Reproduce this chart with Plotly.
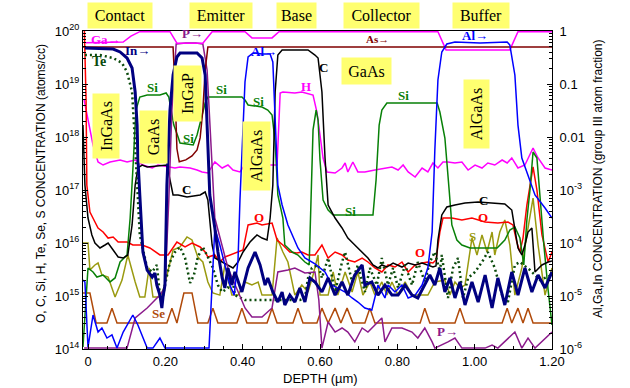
import plotly.graph_objects as go

# ---------------- data (depth in µm) ----------------
# group-III / group-V atom fractions (right axis)
ga_depth = [-0.006, 0.091, 0.111, 0.134, 0.212, 0.230, 0.297, 0.321, 0.406, 0.424, 0.476, 0.494, 0.905, 0.926, 1.091, 1.112, 1.200]
ga_frac = [0.60, 0.62, 0.80, 0.97, 0.97, 0.59, 0.59, 0.97, 0.97, 0.74, 0.74, 0.97, 0.97, 0.44, 0.44, 0.97, 0.97]

as_depth = [-0.013, 0.220, 0.224, 0.230, 0.236, 0.253, 0.269, 0.282, 0.290, 0.297, 0.303, 0.310, 1.200]
as_frac = [0.50, 0.50, 0.12, 0.006, 0.0034, 0.0037, 0.0044, 0.0057, 0.0096, 0.032, 0.18, 0.50, 0.50]

p_depth = [-0.010, 0.101, 0.122, 0.153, 0.186, 0.199, 0.209, 0.217, 0.228, 0.253, 0.279, 0.297, 0.308, 0.318, 0.328, 0.362, 0.406, 0.424, 0.450, 0.476, 0.491, 0.517, 0.535, 0.561, 0.587, 0.597, 0.605, 0.621, 0.639, 0.657, 0.672, 0.690, 0.709, 0.724, 0.742, 0.760, 0.768, 0.786, 0.812, 0.838, 0.853, 0.871, 0.890, 0.897, 0.931, 0.949, 0.967, 1.027, 1.045, 1.060, 1.104, 1.122, 1.138, 1.156, 1.200]
p_frac = [1.04e-6, 1.04e-6, 3.85e-6, 5.94e-6, 1.04e-5, 1.42e-5, 6.48e-4, 0.0323, 0.568, 0.594, 0.594, 0.568, 0.184, 0.00568, 2.96e-4, 3.38e-5, 5.94e-6, 4.02e-6, 4.02e-6, 5.94e-6, 2.84e-5, 3.09e-5, 3.38e-5, 2.72e-5, 2.84e-5, 8.41e-6, 1.04e-6, 3.23e-6, 2.09e-6, 2.49e-6, 2.09e-6, 1.36e-6, 2.49e-6, 2.09e-6, 2.84e-6, 3.85e-6, 1.36e-6, 2.49e-6, 2.49e-6, 2.09e-6, 1.61e-6, 2.49e-6, 1.36e-6, 1.04e-6, 1.36e-6, 1.61e-6, 1.04e-6, 1.04e-6, 1.19e-6, 1.04e-6, 2.09e-6, 1.04e-6, 1.61e-6, 1.04e-6, 2.09e-6]

al_depth = [-0.013, -0.008, 0.000, 0.013, 0.026, 0.036, 0.049, 0.062, 0.075, 0.091, 0.116, 0.129, 0.153, 0.168, 0.186, 0.199, 0.313, 0.321, 0.328, 0.341, 0.354, 0.367, 0.378, 0.388, 0.393, 0.398, 0.406, 0.414, 0.427, 0.450, 0.471, 0.478, 0.486, 0.491, 0.502, 0.517, 0.543, 0.561, 0.587, 0.613, 0.631, 0.646, 0.665, 0.683, 0.698, 0.716, 0.734, 0.750, 0.760, 0.768, 0.776, 0.794, 0.812, 0.828, 0.846, 0.864, 0.879, 0.890, 0.897, 0.905, 0.915, 0.928, 0.949, 1.014, 1.084, 1.091, 1.104, 1.112, 1.122, 1.135, 1.156, 1.182, 1.200]
al_frac = [2.0e-5, 1.84e-5, 1.09e-6, 4.38e-6, 2.09e-6, 2.49e-6, 1.61e-6, 1.84e-6, 1.04e-6, 2.09e-6, 4.38e-6, 2.84e-6, 1.04e-6, 1.04e-6, 1.61e-6, 1.04e-6, 1.04e-6, 1.30e-5, 1.92e-4, 9.17e-5, 3.85e-5, 1.61e-5, 1.04e-5, 4.78e-5, 6.48e-4, 5.68e-3, 0.109, 0.323, 0.385, 0.368, 0.368, 0.260, 0.0136, 1.24e-3, 5.21e-4, 2.19e-4, 8.05e-5, 5.21e-5, 4.02e-5, 2.84e-5, 1.61e-5, 1.42e-5, 1.19e-5, 9.17e-6, 7.70e-6, 5.94e-6, 5.44e-6, 1.61e-5, 1.19e-5, 9.17e-6, 1.61e-5, 1.19e-5, 1.61e-5, 9.17e-6, 1.04e-5, 1.61e-5, 3.38e-5, 1.61e-4, 5.68e-3, 0.119, 0.402, 0.568, 0.620, 0.594, 0.620, 0.544, 0.148, 0.0168, 4.02e-3, 2.19e-3, 8.05e-4, 4.57e-4, 2.96e-4]

in_depth = [-0.008, 0.065, 0.083, 0.101, 0.114, 0.122, 0.127, 0.129, 0.134, 0.142, 0.153, 0.166, 0.173, 0.178, 0.186, 0.191, 0.194, 0.199, 0.204, 0.212, 0.220, 0.230, 0.238, 0.282, 0.295, 0.303, 0.308, 0.315, 0.328, 0.336, 0.347, 0.354, 0.362, 0.372, 0.380, 0.398, 0.414, 0.432, 0.445, 0.458, 0.465, 0.478, 0.491, 0.502, 0.509, 0.522, 0.535, 0.548, 0.561, 0.574, 0.587, 0.605, 0.621, 0.639, 0.657, 0.672, 0.690, 0.709, 0.716, 0.734, 0.750, 0.768, 0.786, 0.802, 0.820, 0.838, 0.853, 0.871, 0.884, 0.897, 0.910, 0.923, 0.936, 0.949, 0.962, 0.975, 0.993, 1.009, 1.027, 1.045, 1.060, 1.078, 1.096, 1.112, 1.130, 1.148, 1.164, 1.182, 1.200]
in_frac = [0.478, 0.457, 0.402, 0.309, 0.200, 0.0707, 0.0168, 0.00402, 8.05e-4, 6.76e-5, 3.09e-5, 2.28e-5, 2.72e-5, 1.61e-5, 1.04e-5, 5.94e-6, 9.57e-6, 1.61e-5, 1.24e-3, 0.0323, 0.148, 0.323, 0.385, 0.385, 0.309, 0.148, 0.0168, 8.05e-4, 1.92e-4, 6.76e-5, 2.19e-5, 1.42e-5, 3.38e-5, 1.61e-5, 2.84e-5, 1.19e-5, 3.38e-5, 6.76e-5, 3.85e-5, 1.61e-5, 2.19e-5, 1.19e-5, 7.70e-6, 1.19e-5, 6.76e-6, 1.04e-5, 7.70e-6, 1.42e-5, 7.70e-6, 2.19e-5, 1.84e-5, 1.19e-5, 2.19e-5, 1.04e-5, 1.84e-5, 1.04e-5, 2.49e-5, 3.85e-5, 1.61e-5, 1.84e-5, 1.04e-5, 1.61e-5, 1.04e-5, 1.04e-5, 1.61e-5, 1.04e-5, 9.17e-6, 1.61e-5, 2.49e-5, 1.61e-5, 3.38e-5, 1.19e-5, 2.19e-5, 9.17e-6, 1.84e-5, 6.76e-6, 1.84e-5, 7.70e-6, 2.49e-5, 5.94e-6, 2.19e-5, 6.76e-6, 2.84e-5, 1.04e-5, 3.38e-5, 1.19e-5, 2.49e-5, 1.42e-5, 2.84e-5]

# impurity concentrations in atoms/cc (left axis)
te_depth = [-0.008, 0.031, 0.065, 0.088, 0.101, 0.114, 0.119, 0.124, 0.129, 0.134, 0.153, 0.166, 0.178, 0.186, 0.191, 0.199, 0.212, 0.225, 0.238, 0.251, 0.264, 0.274, 0.284, 0.297, 0.310, 0.323, 0.336, 0.347, 0.362, 0.372, 0.380, 0.406, 0.548, 0.561, 0.569, 0.579, 0.595, 0.605, 0.621, 0.639, 0.657, 0.665, 0.683, 0.698, 0.716, 0.729, 0.747, 0.760, 0.776, 0.789, 0.802, 0.820, 0.838, 0.853, 0.871, 0.884, 0.897, 0.910, 0.915, 0.931, 0.944, 0.957, 0.970, 0.983, 1.001, 1.019, 1.034, 1.052, 1.071, 1.086, 1.104, 1.117, 1.143, 1.169, 1.200]
te_conc = [3.52e19, 3.52e19, 3.09e19, 2.49e19, 1.68e19, 7.07e18, 1.68e18, 4.02e17, 1.00e17, 1.42e16, 3.38e15, 2.84e15, 3.85e15, 1.04e15, 7.70e14, 1.61e15, 4.38e15, 6.76e15, 8.41e15, 5.21e15, 1.76e15, 2.49e15, 5.44e15, 8.41e15, 5.44e15, 3.38e15, 1.61e15, 1.19e15, 1.42e15, 2.49e15, 1.04e15, 8.41e14, 8.41e14, 9.17e14, 2.19e15, 3.38e15, 3.85e15, 2.19e15, 5.21e15, 1.19e15, 4.38e15, 6.76e15, 1.84e15, 3.85e15, 1.19e15, 3.38e15, 1.61e15, 5.21e15, 1.61e15, 3.38e15, 1.42e15, 3.85e15, 1.61e15, 4.38e15, 1.84e15, 4.38e15, 6.76e15, 2.84e15, 5.94e15, 9.17e14, 3.38e15, 5.21e15, 9.17e14, 2.19e15, 2.84e15, 4.38e15, 6.76e15, 3.38e15, 1.04e15, 7.70e14, 3.85e15, 4.38e15, 3.09e15, 2.00e15, 2.49e15]

si_depth = [-0.013, -0.005, 0.000, 0.013, 0.023, 0.039, 0.057, 0.070, 0.083, 0.101, 0.109, 0.116, 0.124, 0.134, 0.153, 0.186, 0.202, 0.209, 0.215, 0.222, 0.233, 0.238, 0.272, 0.282, 0.292, 0.303, 0.310, 0.398, 0.406, 0.414, 0.450, 0.465, 0.476, 0.484, 0.491, 0.504, 0.509, 0.528, 0.543, 0.561, 0.572, 0.577, 0.582, 0.590, 0.595, 0.600, 0.608, 0.621, 0.634, 0.737, 0.745, 0.753, 0.760, 0.773, 0.903, 0.910, 0.923, 0.934, 0.941, 0.954, 0.967, 0.988, 1.058, 1.078, 1.091, 1.104, 1.117, 1.127, 1.135, 1.143, 1.151, 1.161, 1.169, 1.179, 1.190, 1.200]
si_conc = [1.09e14, 8.41e14, 3.38e15, 2.84e15, 2.28e15, 2.49e15, 1.84e15, 2.19e15, 4.38e15, 5.94e15, 2.96e16, 2.38e17, 3.23e18, 5.68e18, 6.20e18, 6.20e18, 6.76e18, 5.68e18, 3.23e18, 1.68e18, 1.00e18, 7.70e17, 7.06e17, 1.09e18, 2.09e18, 4.38e18, 5.68e18, 5.68e18, 4.99e18, 4.02e18, 3.68e18, 3.23e18, 2.60e18, 8.05e17, 8.05e16, 2.96e16, 9.17e15, 6.76e15, 5.94e15, 4.38e15, 3.85e15, 6.48e16, 1.36e18, 3.23e18, 2.09e18, 3.68e17, 6.48e16, 4.19e16, 3.38e16, 3.38e16, 1.54e17, 1.68e18, 3.23e18, 4.38e18, 4.38e18, 2.96e18, 9.57e17, 1.00e17, 2.19e16, 1.14e16, 9.17e15, 8.05e15, 8.05e15, 1.14e16, 1.76e16, 2.00e16, 1.24e16, 3.85e15, 2.72e16, 1.00e17, 5.21e17, 4.02e17, 6.48e16, 9.17e15, 1.30e15, 2.84e14]

c_depth = [-0.013, -0.008, 0.000, 0.010, 0.018, 0.031, 0.044, 0.052, 0.065, 0.078, 0.091, 0.103, 0.114, 0.122, 0.129, 0.140, 0.153, 0.204, 0.207, 0.220, 0.233, 0.256, 0.290, 0.303, 0.310, 0.315, 0.321, 0.328, 0.347, 0.362, 0.375, 0.388, 0.401, 0.419, 0.437, 0.450, 0.463, 0.471, 0.478, 0.484, 0.491, 0.502, 0.569, 0.587, 0.595, 0.605, 0.613, 0.621, 0.639, 0.657, 0.672, 0.690, 0.709, 0.724, 0.737, 0.750, 0.760, 0.773, 0.789, 0.812, 0.828, 0.846, 0.864, 0.879, 0.892, 0.900, 0.905, 0.915, 0.928, 0.949, 0.975, 1.009, 1.045, 1.078, 1.096, 1.104, 1.112, 1.122, 1.130, 1.138, 1.148, 1.156, 1.174, 1.190, 1.200]
c_conc = [1.68e18, 1.24e17, 2.96e16, 1.42e16, 1.00e16, 8.05e15, 9.17e15, 1.00e16, 7.38e15, 5.44e15, 5.21e15, 5.94e15, 2.19e16, 1.24e17, 2.60e17, 2.96e17, 2.72e17, 2.96e17, 2.38e17, 8.05e16, 8.05e16, 7.38e16, 8.05e16, 9.17e16, 6.48e16, 2.96e16, 9.17e15, 5.21e15, 4.38e15, 3.85e15, 3.38e15, 4.38e15, 6.76e15, 1.04e16, 1.42e16, 1.24e16, 1.14e16, 2.96e16, 1.24e17, 7.07e18, 3.52e19, 4.38e19, 4.38e19, 3.52e19, 3.09e19, 7.07e18, 4.02e17, 5.21e16, 2.96e16, 1.92e16, 1.24e16, 9.17e15, 6.76e15, 5.21e15, 3.85e15, 3.38e15, 3.85e15, 3.52e15, 4.19e15, 3.52e15, 4.19e15, 3.85e15, 4.19e15, 3.85e15, 3.52e15, 3.68e15, 1.14e16, 3.38e16, 4.78e16, 5.21e16, 5.68e16, 5.94e16, 5.68e16, 5.44e16, 4.19e16, 1.92e16, 8.05e15, 5.94e15, 9.17e15, 1.61e16, 1.92e16, 2.84e15, 3.85e15, 4.38e15, 4.57e15]

o_depth = [-0.010, -0.005, -0.003, 0.005, 0.018, 0.026, 0.039, 0.052, 0.065, 0.078, 0.101, 0.116, 0.140, 0.160, 0.186, 0.207, 0.230, 0.251, 0.269, 0.290, 0.303, 0.310, 0.328, 0.341, 0.354, 0.367, 0.385, 0.401, 0.414, 0.437, 0.450, 0.476, 0.489, 0.504, 0.522, 0.540, 0.553, 0.569, 0.587, 0.605, 0.621, 0.639, 0.657, 0.672, 0.690, 0.709, 0.724, 0.742, 0.760, 0.776, 0.794, 0.812, 0.828, 0.846, 0.864, 0.879, 0.892, 0.900, 0.910, 0.918, 0.941, 0.967, 0.993, 1.027, 1.060, 1.086, 1.099, 1.109, 1.117, 1.125, 1.135, 1.143, 1.151, 1.161, 1.174, 1.190, 1.200]
o_conc = [1.6e20, 4.99e18, 1.24e17, 3.85e16, 2.49e16, 1.92e16, 1.61e16, 1.24e16, 1.30e16, 1.04e16, 1.04e16, 9.17e15, 9.17e15, 8.05e15, 5.94e15, 5.94e15, 1.04e16, 8.41e15, 1.00e16, 8.41e15, 6.76e15, 5.44e15, 5.94e15, 4.38e15, 5.44e15, 5.94e15, 6.76e15, 7.38e15, 2.19e16, 2.38e16, 2.19e16, 2.38e16, 1.14e16, 9.17e15, 6.76e15, 6.48e15, 6.76e15, 5.94e15, 5.94e15, 9.17e15, 5.21e15, 6.76e15, 5.94e15, 4.78e15, 4.38e15, 5.21e15, 4.38e15, 3.38e15, 2.84e15, 3.85e15, 3.52e15, 4.38e15, 2.84e15, 3.85e15, 4.19e15, 4.38e15, 4.19e15, 4.78e15, 1.61e16, 2.96e16, 2.96e16, 2.72e16, 2.96e16, 2.49e16, 2.38e16, 2.49e16, 2.19e16, 1.04e16, 6.76e15, 1.24e16, 5.21e16, 1.24e17, 2.72e17, 1.00e17, 1.42e16, 4.38e15, 6.76e15]

s_depth = [-0.013, 0.000, 0.005, 0.018, 0.026, 0.036, 0.052, 0.070, 0.088, 0.103, 0.122, 0.134, 0.147, 0.158, 0.168, 0.186, 0.197, 0.220, 0.238, 0.256, 0.269, 0.284, 0.297, 0.310, 0.323, 0.341, 0.354, 0.372, 0.388, 0.406, 0.424, 0.440, 0.450, 0.476, 0.489, 0.504, 0.517, 0.535, 0.553, 0.569, 0.582, 0.595, 0.600, 0.621, 0.634, 0.646, 0.665, 0.683, 0.698, 0.711, 0.729, 0.742, 0.760, 0.773, 0.786, 0.802, 0.820, 0.838, 0.879, 0.897, 0.923, 0.936, 0.949, 0.962, 0.975, 0.983, 0.993, 1.006, 1.019, 1.032, 1.045, 1.052, 1.065, 1.078, 1.091, 1.104, 1.122, 1.135, 1.151, 1.164, 1.182, 1.200]
s_conc = [1.00e16, 1.00e16, 3.09e15, 3.85e15, 4.19e15, 2.49e15, 2.28e15, 9.57e14, 2.00e15, 5.94e15, 1.84e15, 9.57e14, 9.57e14, 3.38e15, 9.57e14, 9.57e14, 1.48e15, 7.38e15, 8.41e15, 1.30e16, 1.14e16, 5.44e15, 4.38e15, 1.84e15, 1.14e15, 1.04e15, 3.85e15, 1.04e15, 1.04e15, 1.84e15, 1.61e15, 1.84e15, 1.04e15, 1.04e15, 1.24e16, 6.76e15, 4.38e15, 1.04e15, 1.61e15, 1.19e15, 2.49e15, 5.94e15, 1.04e15, 1.04e15, 2.84e15, 1.04e15, 2.84e15, 1.19e15, 2.84e15, 1.04e15, 1.84e15, 1.04e15, 1.84e15, 1.04e15, 1.84e15, 1.04e15, 1.84e15, 1.04e15, 1.04e15, 1.84e15, 2.00e15, 1.04e15, 1.84e15, 1.42e15, 1.61e15, 4.38e15, 1.24e16, 5.94e15, 1.42e16, 6.76e15, 1.61e16, 5.94e15, 1.61e16, 2.72e16, 9.17e15, 1.04e15, 3.38e15, 1.42e16, 7.06e16, 9.17e15, 1.04e15, 3.38e15]

se_depth = [-0.013, 0.005, 0.021, 0.049, 0.062, 0.075, 0.204, 0.217, 0.230, 0.248, 0.269, 0.284, 0.310, 0.323, 0.336, 0.385, 0.398, 0.411, 0.463, 0.476, 0.489, 0.530, 0.543, 0.556, 0.592, 0.605, 0.621, 0.639, 0.654, 0.670, 0.685, 0.716, 0.729, 0.742, 0.859, 0.871, 0.884, 0.949, 0.962, 0.975, 1.071, 1.084, 1.096, 1.112, 1.125, 1.138, 1.151, 1.200]
se_conc = [1.14e15, 1.14e15, 3.1e14, 3.1e14, 5.9e14, 3.1e14, 3.1e14, 5.9e14, 3.1e14, 1.14e15, 1.14e15, 3.1e14, 3.1e14, 5.9e14, 3.1e14, 3.1e14, 5.9e14, 3.1e14, 3.1e14, 5.9e14, 3.1e14, 3.1e14, 5.9e14, 3.1e14, 3.1e14, 5.9e14, 3.1e14, 5.9e14, 3.1e14, 5.9e14, 3.1e14, 3.1e14, 5.9e14, 3.1e14, 3.1e14, 5.9e14, 3.1e14, 3.1e14, 5.9e14, 3.1e14, 3.1e14, 5.9e14, 3.1e14, 5.9e14, 3.1e14, 5.9e14, 3.1e14, 3.1e14]

h_depth = [-0.010, 0.013, 0.026, 0.039, 0.057, 0.083, 0.101, 0.122, 0.142, 0.166, 0.181, 0.207, 0.225, 0.238, 0.264, 0.282, 0.295, 0.310, 0.328, 0.347, 0.362, 0.375, 0.393, 0.411, 0.427, 0.450, 0.471, 0.489, 0.497, 0.504, 0.535, 0.553, 0.582, 0.592, 0.608, 0.618, 0.639, 0.657, 0.665, 0.672, 0.685, 0.698, 0.716, 0.742, 0.768, 0.786, 0.802, 0.815, 0.828, 0.846, 0.864, 0.879, 0.892, 0.905, 0.918, 0.931, 0.949, 0.967, 0.983, 1.001, 1.019, 1.034, 1.052, 1.071, 1.084, 1.096, 1.112, 1.130, 1.151, 1.164, 1.182, 1.200]
h_conc = [4.99e18, 7.06e17, 3.38e17, 2.96e17, 3.38e17, 3.68e17, 3.38e17, 3.68e17, 2.96e17, 2.60e17, 2.96e17, 2.72e17, 2.60e17, 2.72e17, 2.60e17, 2.38e17, 2.19e17, 2.09e17, 3.38e17, 2.60e17, 2.96e17, 2.38e17, 2.19e17, 3.38e17, 2.60e17, 2.72e17, 2.96e17, 2.96e17, 6.76e18, 7.07e18, 6.76e18, 7.07e18, 6.20e18, 2.96e18, 4.02e17, 2.19e17, 2.09e17, 2.60e17, 3.23e17, 2.19e17, 3.38e17, 2.19e17, 2.19e17, 2.38e17, 2.60e17, 2.72e17, 2.38e17, 2.96e17, 2.19e17, 1.76e17, 2.60e17, 2.19e17, 3.23e17, 2.60e17, 3.38e17, 3.38e17, 3.23e17, 3.38e17, 2.38e17, 2.96e17, 2.60e17, 3.23e17, 2.96e17, 3.68e17, 3.23e17, 4.02e17, 2.60e17, 2.96e17, 6.20e17, 4.02e17, 2.60e17, 2.38e17]

# tick labels
x_tick_vals = [0, 0.2, 0.4, 0.6, 0.8, 1.0, 1.2]
x_tick_text = ["0", "0.20", "0.40", "0.60", "0.80", "1.00", "1.20"]
left_tick_vals = [1e14, 1e15, 1e16, 1e17, 1e18, 1e19, 1e20]
left_tick_text = ["10<sup>14</sup>", "10<sup>15</sup>", "10<sup>16</sup>", "10<sup>17</sup>",
                  "10<sup>18</sup>", "10<sup>19</sup>", "10<sup>20</sup>"]
right_tick_vals = [1e-6, 1e-5, 1e-4, 1e-3, 1e-2, 1e-1, 1]
right_tick_text = ["10<sup>-6</sup>", "10<sup>-5</sup>", "10<sup>-4</sup>", "10<sup>-3</sup>",
                   "0.01", "0.1", "1"]

# ---------------- colours ----------------
MAG = "#ff00ff"; MAROON = "#800000"; PURPLE = "#8b1a8b"; BLUE = "#0000ff"; NAVY = "#000080"
TEGREEN = "#0b4a0b"; GREEN = "#078007"; BLACK = "#000000"; RED = "#ff0000"
OLIVE = "#9a9a10"; SIENNA = "#b04a0a"; YELLOW = "#ffff70"

fig = go.Figure()

def add(x, y, color, width=1.5, axis="y", dash=None):
    fig.add_trace(go.Scatter(x=x, y=y, mode="lines", yaxis=axis,
                             line=dict(color=color, width=width, dash=dash),
                             hoverinfo="skip", showlegend=False))

# left-axis (atoms/cc)
add(se_depth, se_conc, SIENNA)
add(h_depth, h_conc, MAG)
add(s_depth, s_conc, OLIVE)
add(o_depth, o_conc, RED)
add(si_depth, si_conc, GREEN)
add(c_depth, c_conc, BLACK)
add(te_depth, te_conc, TEGREEN, width=2.5, dash="2px,3px")
# right-axis (atom fraction)
add(p_depth, p_frac, PURPLE, axis="y2")
add(ga_depth, ga_frac, MAG, axis="y2")
add(as_depth, as_frac, MAROON, axis="y2")
add(al_depth, al_frac, BLUE, axis="y2")
add(in_depth, in_frac, NAVY, width=3, axis="y2")

# ---------------- layout ----------------
L, R, T, B, W, H = 83, 78, 31, 39, 630, 388
PW, PH = W - L - R, H - T - B

def pxx(v):
    return (v - L) / PW

def pxy(v):
    return (H - B - v) / PH

annotations = []
SERIF = "Liberation Serif, Times New Roman, serif"

# layer names on top
for txt, cx, cy, bw, bh in [("Contact", 120, 16, 64, 25), ("Emitter", 221, 16, 62, 25),
                             ("Base", 296, 16, 39, 25), ("Collector", 381, 16, 75, 25),
                             ("Buffer", 481, 16, 56, 25)]:
    annotations.append(dict(text=txt, x=pxx(cx), y=pxy(cy), xref="paper", yref="paper",
                            showarrow=False, xanchor="center", yanchor="middle",
                            font=dict(family=SERIF, size=16, color="black"),
                            bgcolor=YELLOW, borderpad=0, width=bw, height=bh))

# vertical layer labels inside the plot
for txt, cx, cy, sw, sh in [("InGaAs", 106, 126, 26, 64), ("GaAs", 153, 137, 27, 52),
                             ("InGaP", 188, 94, 27, 55), ("AlGaAs", 256, 156, 27, 68),
                             ("AlGaAs", 476, 114, 25, 68)]:
    annotations.append(dict(text=txt, x=pxx(cx), y=pxy(cy), xref="paper", yref="paper",
                            showarrow=False, xanchor="center", yanchor="middle", textangle=-90,
                            font=dict(family=SERIF, size=16, color="black"),
                            bgcolor=YELLOW, borderpad=0, width=sh, height=sw))
annotations.append(dict(text="GaAs", x=pxx(366), y=pxy(71), xref="paper", yref="paper",
                        showarrow=False, xanchor="center", yanchor="middle",
                        font=dict(family=SERIF, size=16, color="black"),
                        bgcolor=YELLOW, borderpad=0, width=49, height=26))

# element labels
for txt, cx, cy, col, sz in [("Ga→", 106, 39, MAG, 13), ("Te", 99, 62, TEGREEN, 14),
                             ("In→", 137, 50, NAVY, 13), ("Si", 152, 88, GREEN, 13),
                             ("Si", 188, 138, GREEN, 13), ("P→", 192, 33, PURPLE, 13),
                             ("Si", 221, 90, GREEN, 13), ("Al→", 264, 51, BLUE, 13),
                             ("Si", 258, 102, GREEN, 13), ("C", 323, 67, BLACK, 13),
                             ("H", 306, 87, MAG, 13), ("As→", 377, 39, MAROON, 11),
                             ("Si", 403, 96, GREEN, 13), ("Al→", 475, 35, BLUE, 13),
                             ("C", 186, 189, BLACK, 13), ("O", 259, 217, RED, 13),
                             ("Si", 350, 211, GREEN, 13), ("O", 420, 252, RED, 13),
                             ("Se", 158, 313, SIENNA, 13), ("P→", 447, 331, PURPLE, 13),
                             ("C", 483, 200, BLACK, 13), ("O", 483, 217, RED, 13),
                             ("S", 472, 236, OLIVE, 13)]:
    annotations.append(dict(text="<b>" + txt + "</b>", x=pxx(cx), y=pxy(cy), xref="paper",
                            yref="paper", showarrow=False, xanchor="center", yanchor="middle",
                            font=dict(family=SERIF, size=sz, color=col)))

# axis titles
SANS = "Liberation Sans, Arial, sans-serif"
annotations.append(dict(text="O, C, Si, H, Te, Se, S CONCENTRATION (atoms/cc)", x=pxx(41),
                        y=pxy(184), xref="paper", yref="paper", showarrow=False, textangle=-90,
                        xanchor="center", yanchor="middle", font=dict(family=SANS, size=12)))
annotations.append(dict(text="Al,Ga,In CONCENTRATION (group III atom fraction)", x=pxx(598),
                        y=pxy(179), xref="paper", yref="paper", showarrow=False, textangle=-90,
                        xanchor="center", yanchor="middle", font=dict(family=SANS, size=12)))
annotations.append(dict(text="DEPTH (µm)", x=pxx(320), y=pxy(378), xref="paper", yref="paper",
                        showarrow=False, xanchor="center", yanchor="middle",
                        font=dict(family=SANS, size=13)))

minor_log_left = [m * 10.0 ** e for e in range(14, 20) for m in range(2, 10)]
minor_log_right = [m * 10.0 ** e for e in range(-6, 0) for m in range(2, 10)]
minor_x = [round(0.05 * i, 2) for i in range(25) if i % 4]

fig.update_layout(
    width=W, height=H, margin=dict(l=L, r=R, t=T, b=B, pad=0, autoexpand=False),
    paper_bgcolor="white", plot_bgcolor="white",
    font=dict(family=SANS, size=13, color="black"),
    showlegend=False,
    xaxis=dict(range=[-0.01293, 1.2], showline=True, linecolor="black", linewidth=1, mirror=True,
               ticks="inside", ticklen=5, tickcolor="black", tickvals=x_tick_vals,
               ticktext=x_tick_text, showgrid=False, zeroline=False,
               minor=dict(tickmode="array", tickvals=minor_x, ticks="inside", ticklen=3,
                          tickcolor="black", showgrid=False)),
    yaxis=dict(type="log", range=[14, 20], showline=True, linecolor="black", linewidth=1,
               ticks="inside", ticklen=5, tickcolor="black", tickvals=left_tick_vals,
               ticktext=left_tick_text, showgrid=False, zeroline=False,
               minor=dict(tickmode="array", tickvals=minor_log_left, ticks="inside", ticklen=3,
                          tickcolor="black", showgrid=False)),
    yaxis2=dict(type="log", range=[-6, 0], overlaying="y", side="right", showline=True,
                linecolor="black", linewidth=1, ticks="inside", ticklen=5, tickcolor="black",
                tickvals=right_tick_vals, ticktext=right_tick_text, showgrid=False,
                zeroline=False, ticklabelstandoff=4,
                minor=dict(tickmode="array", tickvals=minor_log_right, ticks="inside",
                           ticklen=3, tickcolor="black", showgrid=False)),
    annotations=annotations,
)

fig.write_html("out.html", config={"displayModeBar": False},
               post_script="document.body.style.margin='0';")
